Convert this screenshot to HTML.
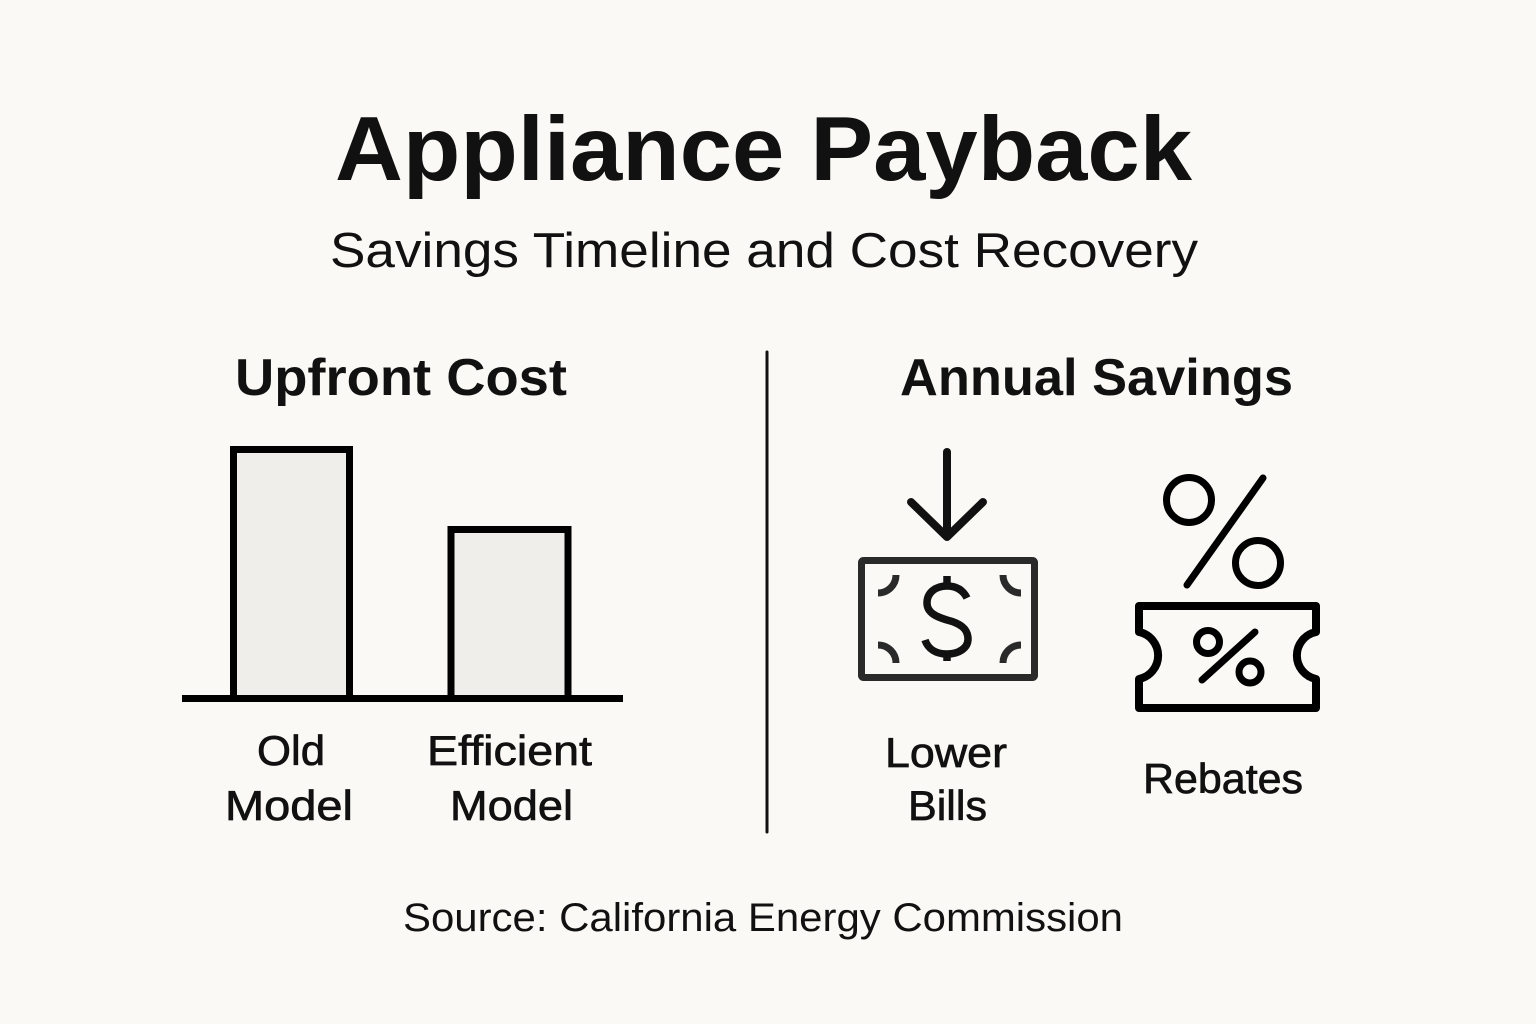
<!DOCTYPE html>
<html>
<head>
<meta charset="utf-8">
<style>
  html, body { margin: 0; padding: 0; background: #faf9f5; }
  body { width: 1536px; height: 1024px; overflow: hidden; }
  svg { display: block; }
  text { font-family: "Liberation Sans", "DejaVu Sans", sans-serif; fill: #111; }
</style>
</head>
<body>
<svg width="1536" height="1024" viewBox="0 0 1536 1024" xmlns="http://www.w3.org/2000/svg">
  <rect x="0" y="0" width="1536" height="1024" fill="#faf9f5"/>

  <!-- Title -->
  <text x="335" y="180" font-size="91" font-weight="bold" textLength="857" lengthAdjust="spacingAndGlyphs">Appliance Payback</text>
  <text x="330" y="267" font-size="49" textLength="868" lengthAdjust="spacingAndGlyphs">Savings Timeline and Cost Recovery</text>

  <!-- Section headers -->
  <text x="235" y="395" font-size="52" font-weight="bold" textLength="332" lengthAdjust="spacingAndGlyphs">Upfront Cost</text>
  <text x="900" y="395" font-size="52" font-weight="bold" textLength="393" lengthAdjust="spacingAndGlyphs">Annual Savings</text>

  <!-- Divider -->
  <line x1="767" y1="352" x2="767" y2="832" stroke="#111" stroke-width="3" stroke-linecap="round"/>

  <!-- Bars -->
  <rect x="233.5" y="449.5" width="116" height="249" fill="#efeeea" stroke="#000" stroke-width="7"/>
  <rect x="451" y="529.5" width="117" height="169" fill="#efeeea" stroke="#000" stroke-width="7"/>
  <line x1="182" y1="698.5" x2="623" y2="698.5" stroke="#000" stroke-width="7"/>

  <!-- Bar labels -->
  <g font-size="42" stroke="#111" stroke-width="0.7">
    <text x="257" y="765" textLength="68" lengthAdjust="spacingAndGlyphs">Old</text>
    <text x="225" y="820" textLength="128" lengthAdjust="spacingAndGlyphs">Model</text>
    <text x="427" y="765" textLength="165" lengthAdjust="spacingAndGlyphs">Efficient</text>
    <text x="450" y="820" textLength="123" lengthAdjust="spacingAndGlyphs">Model</text>
    <text x="885" y="767" textLength="122" lengthAdjust="spacingAndGlyphs">Lower</text>
    <text x="908" y="820" textLength="79" lengthAdjust="spacingAndGlyphs">Bills</text>
    <text x="1143" y="793" textLength="160" lengthAdjust="spacingAndGlyphs">Rebates</text>
  </g>

  <!-- Arrow down -->
  <g stroke="#111" stroke-width="8" stroke-linecap="round" stroke-linejoin="round" fill="none">
    <line x1="947" y1="452" x2="947" y2="535"/>
    <polyline points="911,502 947,537 983,502"/>
  </g>

  <!-- Bill -->
  <g fill="none" stroke="#2a2a2a" stroke-width="7">
    <rect x="861.5" y="560.5" width="173" height="117" rx="2"/>
    <path d="M878 593 A18 18 0 0 0 896 575"/>
    <path d="M1003 575 A18 18 0 0 0 1021 593"/>
    <path d="M878 645 A18 18 0 0 1 896 663"/>
    <path d="M1003 663 A18 18 0 0 1 1021 645"/>
  </g>
  <g fill="none" stroke="#111" stroke-width="7.5" stroke-linecap="butt">
    <path d="M967 598 C963 590 956 586 947 586 C935 586 927 593 927 603 C927 613 937 617 947 620 C959 623 968 628 968 639 C968 648 959 654 947 654 C936 654 928 649 925 640"/>
    <line x1="947" y1="576" x2="947" y2="586"/>
    <line x1="947" y1="654" x2="947" y2="661"/>
  </g>

  <!-- Percent -->
  <g fill="none" stroke="#000" stroke-width="7" stroke-linecap="round">
    <circle cx="1189" cy="500" r="22.5"/>
    <circle cx="1258" cy="563" r="22.5"/>
    <line x1="1263" y1="478" x2="1187" y2="585"/>
  </g>

  <!-- Ticket -->
  <g fill="none" stroke="#000" stroke-width="8" stroke-linejoin="round">
    <path d="M1139 606 H1316 V632 A24 24 0 0 0 1316 679 V708 H1139 V679 A24 24 0 0 0 1139 632 Z"/>
  </g>
  <g fill="none" stroke="#000" stroke-width="7" stroke-linecap="round">
    <circle cx="1208" cy="642" r="11.5"/>
    <circle cx="1250" cy="672" r="11"/>
    <line x1="1255" y1="632" x2="1202" y2="680"/>
  </g>

  <!-- Source -->
  <text x="403" y="931" font-size="40" textLength="720" lengthAdjust="spacingAndGlyphs">Source: California Energy Commission</text>
</svg>
</body>
</html>
